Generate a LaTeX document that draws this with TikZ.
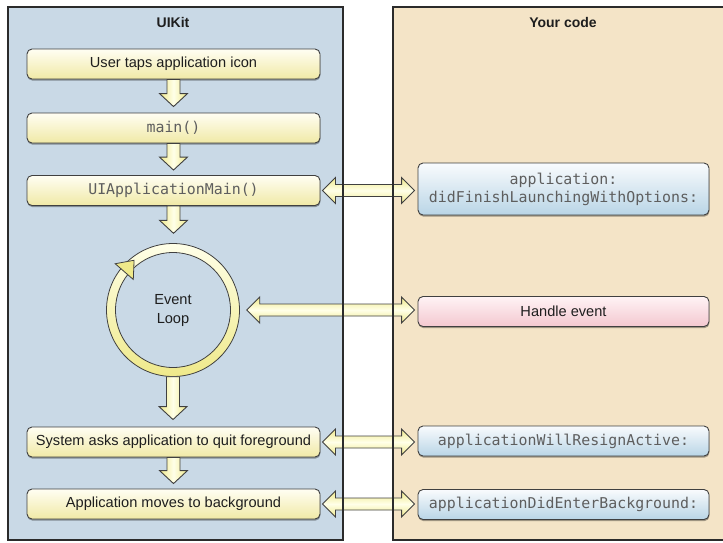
\documentclass[tikz,border=0pt]{standalone}
\usepackage{fontspec}
\setmainfont{Liberation Sans}
\setmonofont{DejaVu Sans Mono}
\usetikzlibrary{calc,shadows}
\definecolor{lbg}{HTML}{C9D9E6}
\definecolor{rbg}{HTML}{F4E4C7}
\definecolor{ytop}{HTML}{FFFEF3}
\definecolor{ybot}{HTML}{F0E9A6}
\definecolor{btop}{HTML}{F9FBFD}
\definecolor{bbot}{HTML}{B9D5E6}
\definecolor{ptop}{HTML}{FFF3F5}
\definecolor{pbot}{HTML}{F4C8D0}
\definecolor{arrY}{HTML}{EFE98A}
\definecolor{arrL}{HTML}{FFFFE8}
\definecolor{edge}{HTML}{404040}
\definecolor{codegray}{HTML}{5E5E5E}
\definecolor{txt}{HTML}{1E1E1E}
\definecolor{panelline}{HTML}{2B2B2B}
\newcommand\vArrow[2]{\path[varrow] let \p1=(#1), \p2=(#2) in
  (\x1-6.5pt,\y1) -- (\x1-6.5pt,\y2+13pt) -- (\x1-14pt,\y2+13pt) -- (\x1,\y2)
  -- (\x1+14pt,\y2+13pt) -- (\x1+6.5pt,\y2+13pt) -- (\x1+6.5pt,\y1) -- cycle;}
\newcommand\hArrow[2]{\path[harrow] let \p1=(#1), \p2=(#2) in
  (\x1,\y1) -- (\x1+13pt,\y1+13pt) -- (\x1+13pt,\y1+6pt) -- (\x2-13pt,\y1+6pt)
  -- (\x2-13pt,\y1+13pt) -- (\x2,\y1) -- (\x2-13pt,\y1-13pt) -- (\x2-13pt,\y1-6pt)
  -- (\x1+13pt,\y1-6pt) -- (\x1+13pt,\y1-13pt) -- cycle;}
\begin{document}
\begin{tikzpicture}[x=1pt,y=-1pt,
  sansf/.style={font=\fontsize{14.6}{18}\selectfont, text=txt},
  monof/.style={font=\ttfamily\fontsize{14.9}{18}\selectfont, text=codegray},
  title/.style={font=\bfseries\fontsize{14}{17}\selectfont, text=txt},
  box/.style={rounded corners=5pt, draw=edge, line width=0.9pt, inner sep=0pt,
    minimum height=30pt, align=center,
    drop shadow={shadow xshift=0.4pt, shadow yshift=-1.6pt, opacity=0.35, fill=black}},
  ybox/.style={box, minimum width=293pt, top color=ytop, bottom color=ybot},
  bbox/.style={box, minimum width=291pt, top color=btop, bottom color=bbot},
  pbox/.style={box, minimum width=291pt, top color=ptop, bottom color=pbot},
  varrow/.style={draw=edge, line width=0.9pt, line join=miter, left color=arrY, right color=arrY, middle color=arrL},
  harrow/.style={draw=edge, line width=0.9pt, line join=miter, top color=arrY, bottom color=arrY, middle color=arrL},
  ringstyle/.style={draw=edge, line width=0.8pt, top color=arrL, bottom color=arrY},
  panelborder/.style={draw=panelline, line width=1.5pt}]
\useasboundingbox (0,0) rectangle (723,542);
% panels
\fill[lbg] (8,7) rectangle (343,540);
\fill[rbg] (393,7) rectangle (730,540);
\node[title] (t1) at (173,22) {UIKit};
\node[title] (t2) at (563,22) {Your code};
% left boxes
\node[ybox, sansf] (b1) at (173.5,64) {User taps application icon};
\node[ybox, monof] (b2) at (173.5,128) {main()};
\node[ybox, monof] (b3) at (173.5,190.5) {UIApplicationMain()};
\node[circle, minimum size=133pt, inner sep=0pt, align=center, sansf] (loop) at (173,310) {};
\node[ybox, sansf] (b5) at (173.5,442) {System asks application to quit foreground};
\node[ybox, sansf] (b6) at (173.5,504) {Application moves to background};
% right boxes
\node[bbox, monof, minimum height=52pt] (r1) at (563.5,189) {application:\\didFinishLaunchingWithOptions:};
\node[pbox, sansf] (r2) at (563.5,311.5) {Handle event};
\node[bbox, monof] (r3) at (563.5,441) {applicationWillResignActive:};
\node[bbox, monof] (r4) at (563.5,504.5) {applicationDidEnterBackground:};
% event loop ring
\path[ringstyle, even odd rule] (loop.center) circle[radius=66.5pt] (loop.center) circle[radius=57.5pt];
\begin{scope}[shift={(loop.center)}, rotate=139]
  \path[draw=edge, line width=0.8pt, line join=miter, fill=arrY] (62pt,-12pt) -- (74pt,3pt) -- (50pt,3pt) -- cycle;
\end{scope}
\node[sansf, align=center] (looptext) at (loop.center) {Event\\[1pt]Loop};
% down arrows
\vArrow{b1.south}{$(b2.north)+(0pt,6pt)$}
\vArrow{b2.south}{$(b3.north)+(0pt,5pt)$}
\vArrow{b3.south}{$(loop.north)+(0pt,10pt)$}
\vArrow{loop.south}{$(b5.north)+(0pt,7pt)$}
\vArrow{b5.south}{$(b6.north)+(0pt,5pt)$}
% double arrows
\hArrow{$(b3.east)+(2pt,0pt)$}{$(r1.west |- b3.east)+(-3pt,0pt)$}
\hArrow{$(loop.east)+(7pt,0pt)$}{$(r2.west |- loop.east)+(-3pt,0pt)$}
\hArrow{$(b5.east)+(2pt,0pt)$}{$(r3.west |- b5.east)+(-3pt,0pt)$}
\hArrow{$(b6.east)+(2pt,0pt)$}{$(r4.west |- b6.east)+(-3pt,0pt)$}
% panel borders
\draw[panelborder] (8,7) rectangle (343,540);
\draw[panelborder] (730,7) -- (393,7) -- (393,540) -- (730,540);
\end{tikzpicture}
\end{document}
